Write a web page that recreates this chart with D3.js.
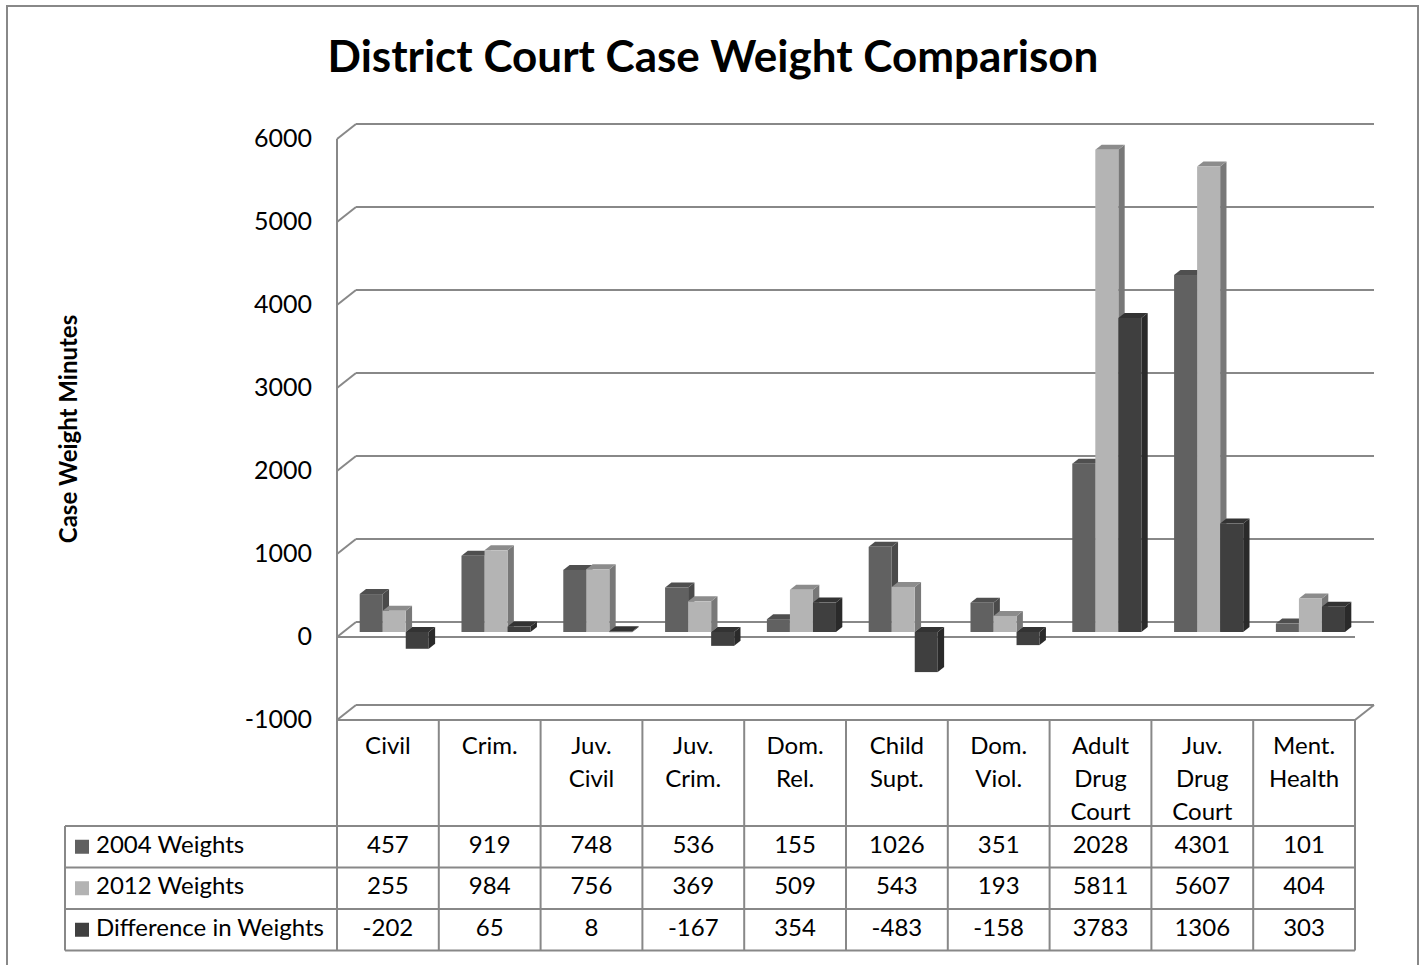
<!DOCTYPE html>
<html>
<head>
<meta charset="utf-8">
<script src="https://cdn.jsdelivr.net/npm/d3@7"></script>
<style>
  body { margin: 0; background: #fff; }
  svg text { font-family: Lato, "Open Sans", sans-serif; fill: #000; }
</style>
</head>
<body>
<svg id="chart" width="1424" height="965"></svg>
<script>
// data
const categories = [["Civil"], ["Crim."], ["Juv.", "Civil"], ["Juv.", "Crim."], ["Dom.", "Rel."],
                    ["Child", "Supt."], ["Dom.", "Viol."], ["Adult", "Drug", "Court"], ["Juv.", "Drug", "Court"], ["Ment.", "Health"]];
const seriesNames = ["2004 Weights", "2012 Weights", "Difference in Weights"];
const weights2004 = [457, 919, 748, 536, 155, 1026, 351, 2028, 4301, 101];
const weights2012 = [255, 984, 756, 369, 509, 543, 193, 5811, 5607, 404];
const weightDiff = [-202, 65, 8, -167, 354, -483, -158, 3783, 1306, 303];
const yTicks = [-1000, 0, 1000, 2000, 3000, 4000, 5000, 6000];

const seriesValues = [weights2004, weights2012, weightDiff];
// front / top / side shades for each series
const shades = [
  { front: "#616161", top: "#4f4f4f", side: "#4a4a4a" },
  { front: "#b4b4b4", top: "#8c8c8c", side: "#787878" },
  { front: "#3f3f3f", top: "#333333", side: "#2a2a2a" }
];

const svg = d3.select("#chart");
const gridColor = "#888";

// full depth of the walls, bars sit in the middle third
const DX = 19, DY = -15;
const BX = DX / 3, BY = DY / 3;

const x = d3.scaleBand().domain(d3.range(categories.length)).range([337, 1355]);
const xs = d3.scaleBand().domain(d3.range(3)).range([0, x.bandwidth()]).paddingOuter(0.71);
const y = d3.scaleLinear().domain([-1000, 6000]).range([720, 139]);

// outer chart border
svg.append("rect")
  .attr("x", 7).attr("y", 6).attr("width", 1411).attr("height", 1000)
  .attr("fill", "none").attr("stroke", gridColor).attr("stroke-width", 2);

// title
svg.append("text")
  .attr("x", 713).attr("y", 72)
  .attr("text-anchor", "middle")
  .style("font-size", "44px").style("font-weight", "bold")
  .text("District Court Case Weight Comparison");

// y axis title
svg.append("text")
  .attr("transform", "translate(77,429) rotate(-90)")
  .attr("text-anchor", "middle")
  .style("font-size", "24px").style("font-weight", "bold")
  .text("Case Weight Minutes");

// walls and gridlines
const grid = svg.append("g").attr("stroke", gridColor).attr("stroke-width", 2).attr("fill", "none");
const x0 = x.range()[0], x1 = x.range()[1];
yTicks.forEach(v => {
  const yy = y(v);
  grid.append("line").attr("x1", x0 + DX).attr("x2", x1 + DX).attr("y1", yy + DY).attr("y2", yy + DY);
  grid.append("line").attr("x1", x0).attr("x2", x0 + DX).attr("y1", yy).attr("y2", yy + DY);
  if (v === 0) {
    grid.append("line").attr("x1", x0).attr("x2", x1).attr("y1", yy).attr("y2", yy);
  }
  if (v === -1000) {
    grid.append("line").attr("x1", x1).attr("x2", x1 + DX).attr("y1", yy).attr("y2", yy + DY);
  }
});
grid.append("line").attr("x1", x0).attr("x2", x0).attr("y1", y(6000)).attr("y2", y(-1000));

// tick labels
svg.append("g").selectAll("text")
  .data(yTicks)
  .join("text")
  .attr("x", 312)
  .attr("y", d => y(d) + 2)
  .attr("text-anchor", "end")
  .attr("dominant-baseline", "middle")
  .style("font-size", "25px")
  .text(d => d);

// bars
const bars = [];
categories.forEach((c, i) => {
  seriesValues.forEach((vals, s) => {
    bars.push({ i, s, v: vals[i] });
  });
});

const barG = svg.append("g");
bars.forEach(b => {
  const bx0 = x(b.i) + xs(b.s) + BX;
  const bx1 = bx0 + xs.bandwidth();
  const yTop = Math.min(y(b.v), y(0)) + BY;
  const yBot = Math.max(y(b.v), y(0)) + BY;
  const sh = shades[b.s];
  const g = barG.append("g");
  g.append("polygon")
    .attr("points", [[bx1, yTop], [bx1 + BX, yTop + BY], [bx1 + BX, yBot + BY], [bx1, yBot]].join(" "))
    .attr("fill", sh.side);
  g.append("polygon")
    .attr("points", [[bx0, yTop], [bx1, yTop], [bx1 + BX, yTop + BY], [bx0 + BX, yTop + BY]].join(" "))
    .attr("fill", sh.top);
  g.append("rect")
    .attr("x", bx0).attr("y", yTop)
    .attr("width", bx1 - bx0).attr("height", Math.max(yBot - yTop, 0.8))
    .attr("fill", sh.front);
});

// data table
const rowTop = 826, rowH = 41.5, tableLeft = 65;
const rows = d3.range(seriesNames.length + 1).map(r => rowTop + r * rowH);
const table = svg.append("g").attr("stroke", gridColor).attr("stroke-width", 2);
table.append("line").attr("x1", x0).attr("x2", x1).attr("y1", y(-1000)).attr("y2", y(-1000));
rows.forEach(ry => {
  table.append("line").attr("x1", tableLeft).attr("x2", x1).attr("y1", ry).attr("y2", ry);
});
table.append("line").attr("x1", tableLeft).attr("x2", tableLeft).attr("y1", rowTop).attr("y2", rows[rows.length - 1]);
d3.range(categories.length + 1).forEach(k => {
  const xx = k < categories.length ? x(k) : x1;
  table.append("line").attr("x1", xx).attr("x2", xx).attr("y1", y(-1000)).attr("y2", rows[rows.length - 1]);
});

// category header labels
const header = svg.append("g");
categories.forEach((lines, i) => {
  lines.forEach((t, k) => {
    header.append("text")
      .attr("x", x(i) + x.bandwidth() / 2)
      .attr("y", 754 + k * 33)
      .attr("text-anchor", "middle")
      .style("font-size", "24px")
      .text(t);
  });
});

// series rows: legend key, name, values
const legendColors = ["#606060", "#b3b3b3", "#404040"];
seriesNames.forEach((name, s) => {
  const cy = rowTop + s * rowH + rowH / 2;
  svg.append("rect")
    .attr("x", 75).attr("y", cy - 7).attr("width", 14).attr("height", 14)
    .attr("fill", legendColors[s]);
  svg.append("text")
    .attr("x", 96).attr("y", cy)
    .attr("dominant-baseline", "middle")
    .style("font-size", "24px")
    .text(name);
  seriesValues[s].forEach((v, i) => {
    svg.append("text")
      .attr("x", x(i) + x.bandwidth() / 2).attr("y", cy)
      .attr("text-anchor", "middle")
      .attr("dominant-baseline", "middle")
      .style("font-size", "24px")
      .text(v);
  });
});
</script>
</body>
</html>
